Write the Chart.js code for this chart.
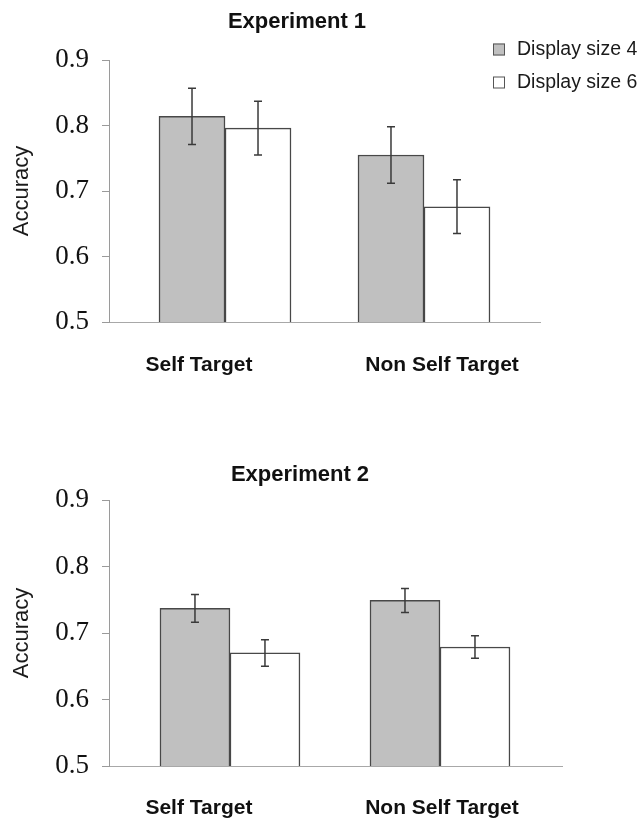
<!DOCTYPE html>
<html>
<head>
<meta charset="utf-8">
<script src="https://cdn.jsdelivr.net/npm/chart.js@4.4.1/dist/chart.umd.min.js"></script>
<style>
  html, body { margin: 0; padding: 0; background: #fff; }
  canvas { display: block; }
</style>
</head>
<body>
<canvas id="exp1" width="642" height="420"></canvas>
<canvas id="exp2" width="642" height="404"></canvas>
<script>
// categories, series names and y tick values
const categories = ["Self Target", "Non Self Target"];
const seriesLabels = ["Display size 4", "Display size 6"];
const yTicks = [0.5, 0.6, 0.7, 0.8, 0.9];

// Experiment 1: mean accuracy and half length of the error bar
const exp1Size4 = [0.814, 0.755];
const exp1Size4Err = [0.043, 0.043];
const exp1Size6 = [0.796, 0.676];
const exp1Size6Err = [0.041, 0.041];

// Experiment 2
const exp2Size4 = [0.737, 0.749];
const exp2Size4Err = [0.021, 0.018];
const exp2Size6 = [0.670, 0.679];
const exp2Size6Err = [0.020, 0.017];

const SANS = "'Liberation Sans', Arial, sans-serif";
const SERIF = "'Liberation Serif', 'Times New Roman', serif";

// error bars drawn on top of every bar
const errorBars = {
  id: "errorBars",
  afterDatasetsDraw(chart) {
    const ctx = chart.ctx;
    const y = chart.scales.y;
    ctx.save();
    ctx.strokeStyle = "#3a3a3a";
    ctx.lineWidth = 1.5;
    chart.data.datasets.forEach((ds, i) => {
      chart.getDatasetMeta(i).data.forEach((bar, j) => {
        const v = ds.data[j].y;
        const e = ds.errors[j];
        const top = y.getPixelForValue(v + e);
        const bot = y.getPixelForValue(v - e);
        ctx.beginPath();
        ctx.moveTo(bar.x, top); ctx.lineTo(bar.x, bot);
        ctx.moveTo(bar.x - 4, top); ctx.lineTo(bar.x + 4, top);
        ctx.moveTo(bar.x - 4, bot); ctx.lineTo(bar.x + 4, bot);
        ctx.stroke();
      });
    });
    ctx.restore();
  }
};

// legend in the top right corner, partly over the plot
const sideLegend = {
  id: "sideLegend",
  afterDraw(chart) {
    const ctx = chart.ctx;
    const area = chart.chartArea;
    const bx = area.right - 47;
    ctx.save();
    ctx.font = "19.5px " + SANS;
    ctx.textBaseline = "middle";
    chart.data.datasets.forEach((ds, i) => {
      const cy = area.top - 10.5 + i * 33;
      ctx.fillStyle = ds.backgroundColor;
      ctx.fillRect(bx, cy - 6, 12, 12);
      ctx.strokeStyle = "#555";
      ctx.lineWidth = 1;
      ctx.strokeRect(bx + 0.5, cy - 5.5, 11, 11);
      ctx.fillStyle = "#1a1a1a";
      ctx.fillText(ds.label, bx + 24, cy);
    });
    ctx.restore();
  }
};

function points(values) {
  return categories.map((c, i) => ({ x: i, y: values[i] }));
}

function makeChart(id, o) {
  const plugins = [errorBars];
  if (o.legend) plugins.push(sideLegend);

  return new Chart(document.getElementById(id), {
    type: "bar",
    data: {
      datasets: [
        {
          label: seriesLabels[0],
          data: points(o.size4),
          errors: o.size4Err,
          backgroundColor: "#c0c0c0",
          borderColor: "#484848",
          borderWidth: 1.5,
          barThickness: o.barWidth,
        },
        {
          label: seriesLabels[1],
          data: points(o.size6),
          errors: o.size6Err,
          backgroundColor: "#ffffff",
          borderColor: "#484848",
          borderWidth: 1.5,
          barThickness: o.barWidth,
        },
      ],
    },
    plugins: plugins,
    options: {
      responsive: false,
      animation: false,
      events: [],
      layout: { padding: { left: 0, right: o.padRight, top: 0, bottom: 0 } },
      plugins: {
        legend: { display: false },
        tooltip: { enabled: false },
        title: {
          display: true,
          text: o.title,
          color: "#111",
          font: { family: SANS, size: 22, weight: "bold", lineHeight: 1.2 },
          padding: o.titlePad,
        },
      },
      scales: {
        x: {
          type: "linear",
          position: "bottom",
          weight: 0,
          min: o.barRange[0],
          max: o.barRange[1],
          bounds: "data",
          offset: false,
          grid: { display: false, drawTicks: false },
          border: { display: true, color: "#a8a8a8", width: 1 },
          ticks: { display: false },
          afterFit: (s) => { s.height = 0; },
        },
        xl: {
          type: "linear",
          position: "bottom",
          weight: 1,
          min: o.labelRange[0],
          max: o.labelRange[1],
          bounds: "data",
          offset: false,
          grid: { display: false, drawTicks: false },
          border: { display: false },
          afterBuildTicks: (s) => { s.ticks = categories.map((c, i) => ({ value: i })); },
          ticks: {
            autoSkip: false,
            maxRotation: 0,
            padding: o.labelPad,
            color: "#111",
            font: { family: SANS, size: 21, weight: "bold", lineHeight: 1.2 },
            callback: (v) => categories[v],
          },
          afterFit: (s) => { s.height = o.bottomHeight; },
        },
        y: {
          type: "linear",
          position: "left",
          min: 0.5,
          max: 0.9,
          bounds: "data",
          beginAtZero: false,
          afterBuildTicks: (s) => { s.ticks = yTicks.map((v) => ({ value: v })); },
          grid: { drawOnChartArea: false, tickLength: 7, color: "#9a9a9a", lineWidth: 1 },
          border: { display: true, color: "#9a9a9a", width: 1 },
          ticks: {
            padding: 13,
            color: "#111",
            font: { family: SERIF, size: 27 },
            callback: (v) => v.toFixed(1),
          },
          title: {
            display: true,
            text: "Accuracy",
            color: "#1a1a1a",
            font: { family: SANS, size: 22, lineHeight: 1.2 },
            padding: { top: 8.8, bottom: 0 },
          },
          afterFit: (s) => { s.width = 109; },
        },
        // empty strip on the right, keeps the plot narrower than the title band
        pad: {
          type: "linear",
          position: "right",
          grid: { display: false, drawTicks: false },
          border: { display: false },
          ticks: { display: false },
          afterFit: (s) => { s.width = o.rightGap; },
        },
      },
    },
  });
}

makeChart("exp1", {
  title: "Experiment 1",
  size4: exp1Size4, size4Err: exp1Size4Err,
  size6: exp1Size6, size6Err: exp1Size6Err,
  barWidth: 66,
  barRange: [-0.583, 1.583],
  labelRange: [-0.370, 1.403],
  titlePad: { top: 8.8, bottom: 24.8 },
  padRight: 48,
  rightGap: 54,
  bottomHeight: 98,
  labelPad: 30.4,
  legend: true,
});

makeChart("exp2", {
  title: "Experiment 2",
  size4: exp2Size4, size4Err: exp2Size4Err,
  size6: exp2Size6, size6Err: exp2Size6Err,
  barWidth: 70,
  barRange: [-0.576, 1.581],
  labelRange: [-0.370, 1.494],
  titlePad: { top: 41.8, bottom: 11.8 },
  padRight: 42,
  rightGap: 38,
  bottomHeight: 58,
  labelPad: 29.4,
  legend: false,
});
</script>
</body>
</html>
